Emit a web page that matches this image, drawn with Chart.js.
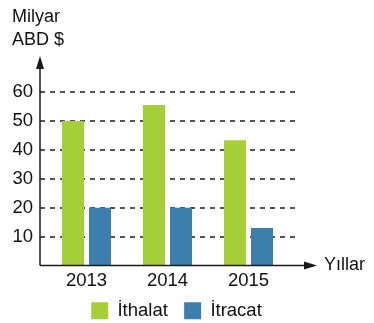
<!DOCTYPE html>
<html>
<head>
<meta charset="utf-8">
<script src="https://cdn.jsdelivr.net/npm/chart.js@4/dist/chart.umd.min.js"></script>
<style>
  html, body { margin: 0; padding: 0; background: #fff; }
  #wrap { width: 374px; height: 323px; }
</style>
</head>
<body>
<div id="wrap"><canvas id="tradeChart"></canvas></div>
<script>
const years = ['2013', '2014', '2015'];
const ithalat = [50, 55.5, 43.3];
const ihracat = [20, 20, 13];
const yTicks = [0, 10, 20, 30, 40, 50, 60];

const FONT = "'Liberation Sans', Arial, sans-serif";
Chart.defaults.font.family = FONT;
Chart.defaults.color = '#111';

// axes with arrows, dashed grid and the axis titles
const axisArrows = {
  id: 'axisArrows',
  beforeDatasetsDraw(chart) {
    const { ctx, chartArea: area, scales: { y } } = chart;
    const axisX = area.left - 6;
    ctx.save();
    ctx.strokeStyle = '#555';
    ctx.lineWidth = 2;
    ctx.setLineDash([5, 5]);
    yTicks.forEach(v => {
      if (v === 0) return;
      const py = Math.round(y.getPixelForValue(v));
      ctx.beginPath();
      ctx.moveTo(axisX, py);
      ctx.lineTo(area.right + 6, py);
      ctx.stroke();
    });
    ctx.restore();
  },
  afterDatasetsDraw(chart) {
    const { ctx, chartArea: area, scales: { y } } = chart;
    const axisX = area.left - 6;
    const axisY = y.getPixelForValue(0);
    ctx.save();
    ctx.strokeStyle = '#1a1a1a';
    ctx.fillStyle = '#1a1a1a';
    ctx.lineWidth = 1.5;
    ctx.beginPath();
    ctx.moveTo(axisX, axisY);
    ctx.lineTo(axisX, area.top - 28);
    ctx.moveTo(axisX, axisY);
    ctx.lineTo(area.right + 20, axisY);
    ctx.stroke();
    // y arrow
    ctx.beginPath();
    ctx.moveTo(axisX, area.top - 36);
    ctx.lineTo(axisX - 4, area.top - 23);
    ctx.lineTo(axisX + 4, area.top - 23);
    ctx.closePath();
    ctx.fill();
    // x arrow
    ctx.beginPath();
    ctx.moveTo(area.right + 28, axisY);
    ctx.lineTo(area.right + 15, axisY - 4);
    ctx.lineTo(area.right + 15, axisY + 4);
    ctx.closePath();
    ctx.fill();

    ctx.fillStyle = '#111';
    ctx.font = '18px ' + FONT;
    ctx.textBaseline = 'alphabetic';
    ctx.textAlign = 'left';
    ctx.fillText('Milyar', 12, 22);
    ctx.fillText('ABD $', 12, 45);
    ctx.fillText('Yıllar', area.right + 35, axisY + 4);
    ctx.restore();
  }
};

new Chart(document.getElementById('tradeChart').getContext('2d'), {
  type: 'bar',
  data: {
    labels: years,
    datasets: [
      {
        label: 'İthalat',
        data: ithalat,
        backgroundColor: '#a6ce39',
        borderWidth: 0
      },
      {
        label: 'İtracat',
        data: ihracat,
        backgroundColor: '#3c7fad',
        borderWidth: 0
      }
    ]
  },
  options: {
    responsive: true,
    maintainAspectRatio: false,
    animation: false,
    categoryPercentage: 0.667,
    barPercentage: 0.815,
    layout: {
      padding: { top: 92, left: 0, right: 21, bottom: -7 }
    },
    plugins: {
      tooltip: { enabled: false },
      legend: {
        position: 'bottom',
        labels: {
          boxWidth: 17,
          boxHeight: 17,
          padding: 6,
          font: { size: 18.5 },
          color: '#111',
          // a little extra room after the first item, as in the original
          generateLabels(chart) {
            const items = Chart.defaults.plugins.legend.labels.generateLabels(chart);
            items[0].text += '  ';
            return items;
          }
        }
      }
    },
    scales: {
      x: {
        grid: { display: false, drawTicks: false },
        border: { display: false },
        ticks: { font: { size: 18.5 }, padding: 4, color: '#111' },
        afterFit: s => { s.height = 30; }
      },
      y: {
        min: 0,
        max: 60,
        grid: { display: false, drawTicks: false },
        border: { display: false },
        afterBuildTicks: s => { s.ticks = yTicks.map(v => ({ value: v })); },
        ticks: {
          font: { size: 18.5 },
          padding: 13,
          color: '#111',
          callback: v => (v === 0 ? '' : v)
        },
        afterFit: s => { s.width = 46; }
      },
      yR: {
        position: 'right',
        grid: { display: false, drawTicks: false },
        border: { display: false },
        ticks: { display: false },
        afterFit: s => { s.width = 64; }
      }
    }
  },
  plugins: [axisArrows]
});
</script>
</body>
</html>
